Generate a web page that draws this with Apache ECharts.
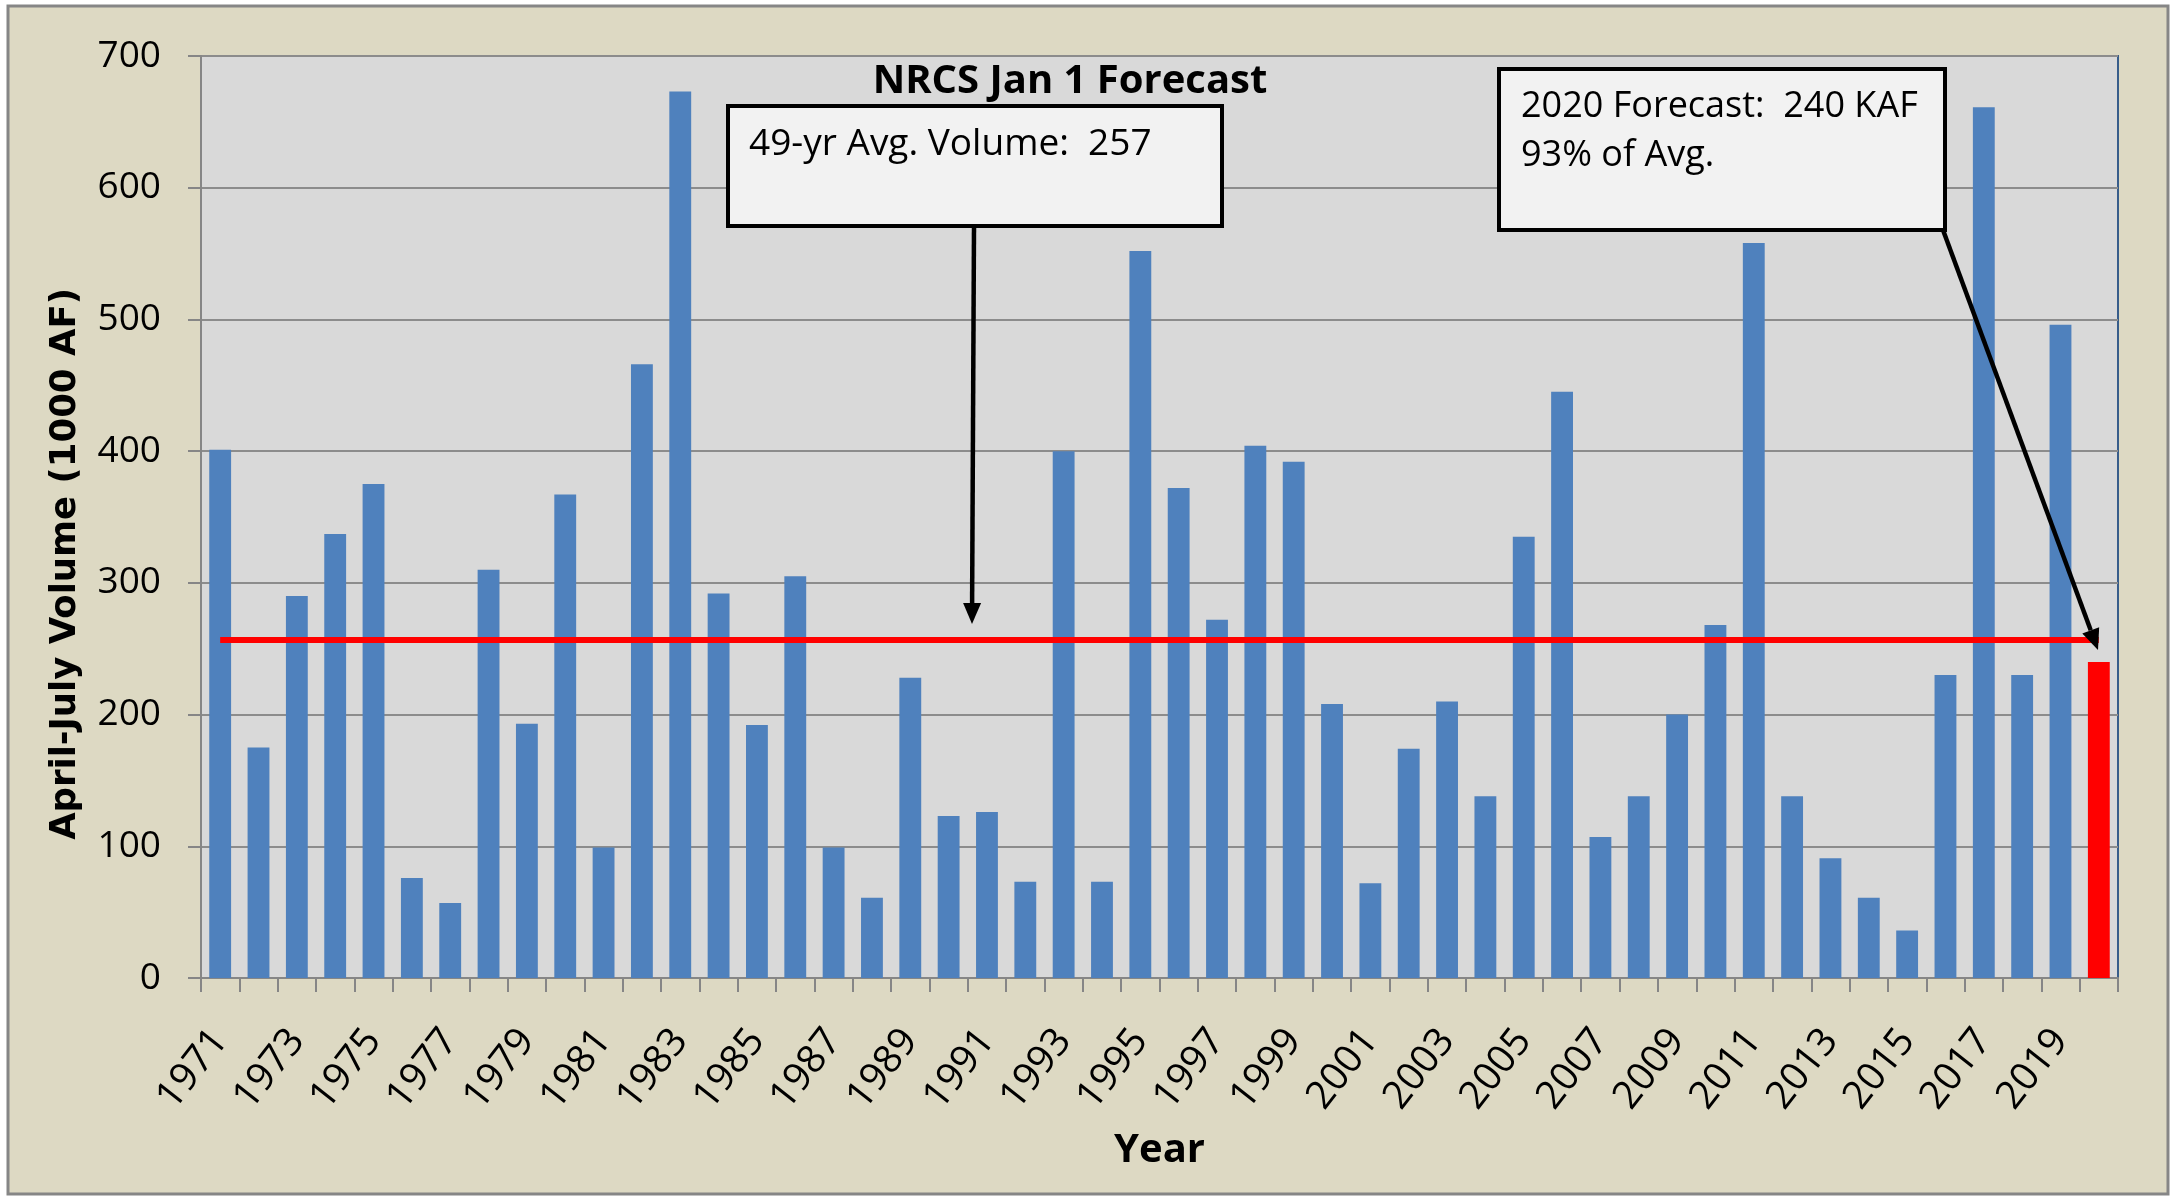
<!DOCTYPE html>
<html>
<head>
<meta charset="utf-8">
<title>NRCS Jan 1 Forecast</title>
<script src="https://cdn.jsdelivr.net/npm/echarts@6/dist/echarts.min.js"></script>
<style>
  html, body { margin: 0; padding: 0; background: #ffffff; }
  #chart { width: 2175px; height: 1200px; }
</style>
</head>
<body>
<div id="chart"></div>
<script>
// April-July volume (1000 AF)
const years = [
  '1971', '1972', '1973', '1974', '1975', '1976', '1977', '1978', '1979', '1980',
  '1981', '1982', '1983', '1984', '1985', '1986', '1987', '1988', '1989', '1990',
  '1991', '1992', '1993', '1994', '1995', '1996', '1997', '1998', '1999', '2000',
  '2001', '2002', '2003', '2004', '2005', '2006', '2007', '2008', '2009', '2010',
  '2011', '2012', '2013', '2014', '2015', '2016', '2017', '2018', '2019', '2020'
]
const observed = [
  401, 175, 290, 337, 375, 76, 57, 310, 193, 367,
  99, 466, 673, 292, 192, 305, 99, 61, 228, 123,
  126, 73, 400, 73, 552, 372, 272, 404, 392, 208,
  72, 174, 210, 138, 335, 445, 107, 138, 200, 268,
  558, 138, 91, 61, 36, 230, 661, 230, 496
]
const forecast2020 = 240
const avgVolume = 257
const yTicks = { min: 0, max: 700, interval: 100 }

const BLUE = '#4f81bd'
const RED = '#ff0000'
const AXIS_GRAY = '#868686'
const TEXT_FONT = '"Open Sans", "Noto Sans", sans-serif'

// blue bars for the record, red bar for the forecast year
const barData = observed.map((v) => ({ value: v }))
barData.push({ value: forecast2020, itemStyle: { color: RED } })

// simple arrow: line + filled head, pixel coords
function arrow(x1, y1, x2, y2) {
  const dx = x2 - x1, dy = y2 - y1
  const len = Math.sqrt(dx * dx + dy * dy)
  const ux = dx / len, uy = dy / len
  const headLen = 21, headW = 9
  const bx = x2 - ux * headLen, by = y2 - uy * headLen
  return [
    {
      type: 'line', z: 100,
      shape: { x1, y1, x2: bx, y2: by },
      style: { stroke: '#000', lineWidth: 4.5 }
    },
    {
      type: 'polygon', z: 100,
      shape: { points: [[x2, y2], [bx - uy * headW, by + ux * headW], [bx + uy * headW, by - ux * headW]] },
      style: { fill: '#000' }
    }
  ]
}

const chart = echarts.init(document.getElementById('chart'), null, { renderer: 'canvas' })

chart.setOption({
  backgroundColor: '#ffffff',
  animation: false,
  title: {
    text: 'NRCS Jan 1 Forecast',
    left: 1065,
    top: 57,
    textAlign: 'center',
    textStyle: { fontFamily: TEXT_FONT, fontWeight: 'bold', fontSize: 40, color: '#000' }
  },
  grid: {
    left: 201, right: 57, top: 56, bottom: 222,
    show: true,
    backgroundColor: '#d9d9d9',
    borderColor: '#385d8a',
    borderWidth: 2
  },
  xAxis: {
    type: 'category',
    data: years,
    boundaryGap: true,
    name: 'Year',
    nameLocation: 'middle',
    nameGap: 153,
    nameTextStyle: { fontFamily: TEXT_FONT, fontWeight: 'bold', fontSize: 40, color: '#000' },
    axisLine: { lineStyle: { color: AXIS_GRAY, width: 2 } },
    axisTick: { show: true, interval: 0, alignWithLabel: false, length: 14, lineStyle: { color: AXIS_GRAY, width: 2 } },
    axisLabel: {
      interval: 1,
      rotate: 52,
      margin: 56,
      verticalAlign: 'middle',
      fontFamily: TEXT_FONT,
      fontSize: 39,
      color: '#000'
    },
    splitLine: { show: false }
  },
  yAxis: {
    type: 'value',
    min: yTicks.min,
    max: yTicks.max,
    interval: yTicks.interval,
    axisLine: { show: true, lineStyle: { color: AXIS_GRAY, width: 2 } },
    axisTick: { show: true, length: 13, lineStyle: { color: AXIS_GRAY, width: 2 } },
    axisLabel: { margin: 40, fontFamily: TEXT_FONT, fontSize: 37, color: '#000' },
    splitLine: { lineStyle: { color: '#8c8c8c', width: 2 } }
  },
  series: [
    {
      type: 'bar',
      data: barData,
      barCategoryGap: '43%',
      itemStyle: { color: BLUE },
      markLine: {
        silent: true,
        symbol: 'none',
        z: 10,
        label: { show: false },
        lineStyle: { color: RED, width: 6, type: 'solid' },
        data: [[
          { coord: [years[0], avgVolume] },
          { coord: [years[years.length - 1], avgVolume] }
        ]]
      }
    }
  ],
  graphic: [
    // outer chart frame
    {
      type: 'rect', z: -10, silent: true,
      shape: { x: 8, y: 6, width: 2160, height: 1188 },
      style: { fill: '#ddd9c3', stroke: AXIS_GRAY, lineWidth: 3 }
    },
    // y axis title
    {
      type: 'text', z: 100,
      x: 66, y: 564, rotation: Math.PI / 2,
      style: {
        text: 'April-July Volume (1000 AF)',
        fontFamily: '"DejaVu Sans", sans-serif', fontWeight: 'bold', fontSize: 35.5,
        fill: '#000', align: 'center', verticalAlign: 'middle'
      }
    },
    // average callout
    {
      type: 'rect', z: 100,
      shape: { x: 728, y: 106, width: 494, height: 120 },
      style: { fill: '#f2f2f2', stroke: '#000', lineWidth: 4 }
    },
    {
      type: 'text', z: 101, x: 749, y: 144,
      style: { text: '49-yr Avg. Volume:  257', fontFamily: TEXT_FONT, fontSize: 37, fill: '#000', verticalAlign: 'middle' }
    },
    ...arrow(974, 226, 972, 624),
    // forecast callout
    {
      type: 'rect', z: 100,
      shape: { x: 1499, y: 69, width: 446, height: 161 },
      style: { fill: '#f2f2f2', stroke: '#000', lineWidth: 4 }
    },
    {
      type: 'text', z: 101, x: 1521, y: 107,
      style: { text: '2020 Forecast:  240 KAF', fontFamily: TEXT_FONT, fontSize: 36, fill: '#000', verticalAlign: 'middle' }
    },
    {
      type: 'text', z: 101, x: 1521, y: 156,
      style: { text: '93% of Avg.', fontFamily: TEXT_FONT, fontSize: 36, fill: '#000', verticalAlign: 'middle' }
    },
    ...arrow(1943, 230, 2098, 650)
  ]
})
</script>
</body>
</html>
